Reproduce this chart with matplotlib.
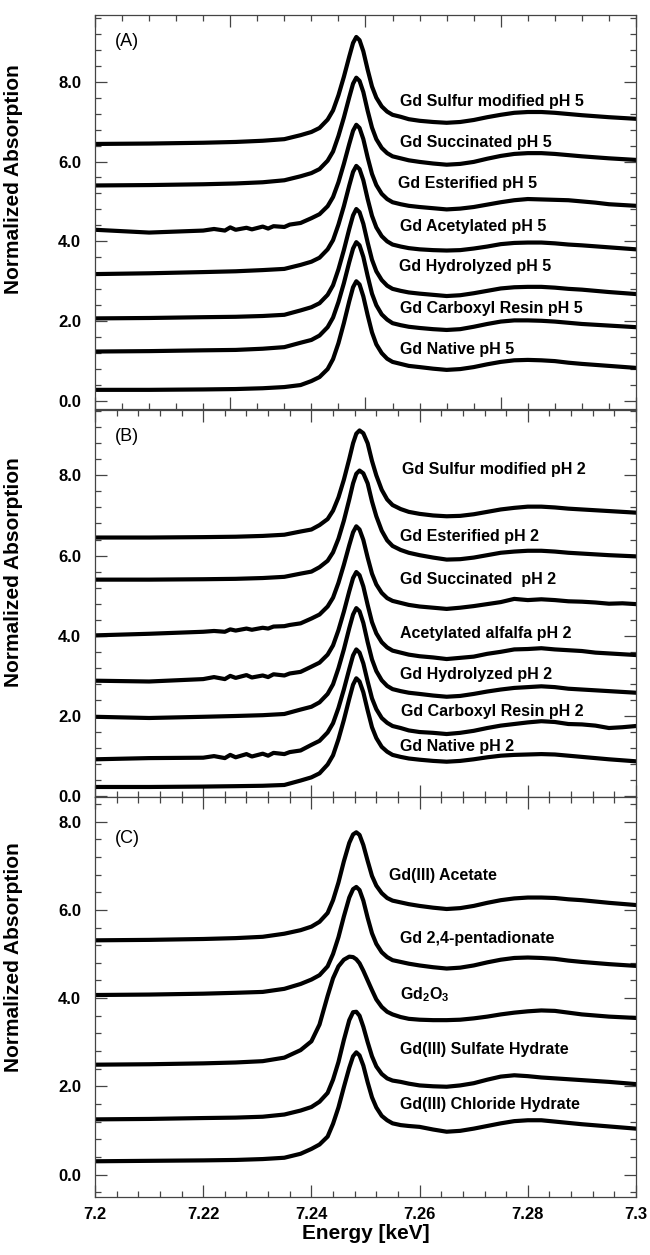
import matplotlib
matplotlib.use('Agg')
from matplotlib import pyplot as plt
from matplotlib.ticker import MultipleLocator, FormatStrFormatter, FuncFormatter

plt.rcParams['font.family'] = ['Liberation Sans', 'DejaVu Sans']
plt.rcParams['mathtext.fontset'] = 'custom'
plt.rcParams['mathtext.rm'] = 'Liberation Sans:bold'
plt.rcParams['mathtext.bf'] = 'Liberation Sans:bold'

# energy grid (keV) used for the smooth spectra
energy = [7.200, 7.210, 7.220, 7.226, 7.231, 7.235, 7.238, 7.240, 7.2415, 7.243,
          7.244, 7.245, 7.246, 7.247, 7.2477, 7.2483, 7.2489, 7.2496, 7.2504, 7.2512,
          7.252, 7.253, 7.254, 7.255, 7.2565, 7.258, 7.260, 7.2625, 7.265, 7.2675,
          7.270, 7.2725, 7.275, 7.2775, 7.280, 7.2825, 7.285, 7.2875, 7.290, 7.295,
          7.300]

# finer grid for the noisy spectra
energy_fine = [7.200, 7.210, 7.220, 7.222, 7.224, 7.225, 7.226, 7.228, 7.229, 7.231,
               7.232, 7.233, 7.235, 7.236, 7.238, 7.240, 7.2415, 7.243, 7.244, 7.245,
               7.246, 7.247, 7.2477, 7.2483, 7.2489, 7.2496, 7.2504, 7.2512, 7.252, 7.253,
               7.254, 7.255, 7.2565, 7.258, 7.260, 7.2625, 7.265, 7.2675, 7.270, 7.2725,
               7.275, 7.2775, 7.280, 7.2825, 7.285, 7.2875, 7.290, 7.2925, 7.295, 7.2975,
               7.300]

# (A) pH 5
native_ph5 = [0.28, 0.28, 0.29, 0.30, 0.32, 0.35, 0.40, 0.50, 0.60, 0.80,
              1.05, 1.45, 1.95, 2.50, 2.85, 3.00, 2.92, 2.62, 2.15, 1.72,
              1.42, 1.20, 1.06, 0.98, 0.93, 0.88, 0.85, 0.81, 0.78, 0.80,
              0.85, 0.92, 0.98, 1.02, 1.03, 1.02, 1.00, 0.96, 0.93, 0.88, 0.83]
carboxyl_ph5 = [1.24, 1.25, 1.27, 1.28, 1.31, 1.35, 1.46, 1.53, 1.64, 1.85,
                2.09, 2.48, 2.95, 3.48, 3.82, 3.98, 3.90, 3.61, 3.13, 2.69,
                2.40, 2.17, 2.04, 1.95, 1.90, 1.86, 1.83, 1.80, 1.78, 1.80,
                1.86, 1.93, 1.99, 2.02, 2.02, 2.01, 1.99, 1.96, 1.93, 1.89, 1.85]
hydrolyzed_ph5 = [2.07, 2.08, 2.10, 2.11, 2.13, 2.16, 2.27, 2.35, 2.45, 2.66,
                  2.90, 3.30, 3.78, 4.31, 4.65, 4.81, 4.73, 4.44, 3.97, 3.54,
                  3.25, 3.03, 2.89, 2.81, 2.76, 2.72, 2.69, 2.66, 2.63, 2.65,
                  2.70, 2.76, 2.82, 2.85, 2.86, 2.86, 2.84, 2.81, 2.79, 2.73, 2.68]
acetylated_ph5 = [3.18, 3.20, 3.23, 3.25, 3.28, 3.31, 3.41, 3.49, 3.59, 3.80,
                  4.03, 4.42, 4.88, 5.40, 5.74, 5.89, 5.81, 5.53, 5.06, 4.64,
                  4.35, 4.13, 4.00, 3.92, 3.87, 3.83, 3.80, 3.78, 3.77, 3.78,
                  3.82, 3.87, 3.93, 3.96, 3.97, 3.97, 3.95, 3.92, 3.90, 3.85, 3.80]
esterified_ph5 = [4.29, 4.22, 4.27, 4.31, 4.27, 4.35, 4.29, 4.34, 4.30, 4.37,
                  4.32, 4.38, 4.36, 4.42, 4.46, 4.58, 4.68, 4.88, 5.11, 5.48,
                  5.94, 6.44, 6.77, 6.92, 6.84, 6.56, 6.10, 5.69, 5.41, 5.19,
                  5.06, 4.98, 4.93, 4.89, 4.86, 4.83, 4.80, 4.82, 4.86, 4.92,
                  4.98, 5.03, 5.06, 5.05, 5.04, 5.03, 5.00, 4.97, 4.93, 4.91,
                  4.89]
succinated_ph5 = [5.40, 5.41, 5.43, 5.45, 5.48, 5.53, 5.63, 5.71, 5.81, 6.02,
                  6.25, 6.64, 7.10, 7.61, 7.95, 8.10, 8.02, 7.74, 7.27, 6.85,
                  6.56, 6.34, 6.21, 6.13, 6.08, 6.03, 5.99, 5.95, 5.92, 5.94,
                  5.99, 6.07, 6.14, 6.19, 6.21, 6.21, 6.19, 6.16, 6.13, 6.08, 6.04]
sulfur_ph5 = [6.44, 6.45, 6.47, 6.49, 6.52, 6.56, 6.66, 6.74, 6.84, 7.05,
              7.28, 7.66, 8.12, 8.63, 8.97, 9.12, 9.04, 8.76, 8.30, 7.88,
              7.60, 7.38, 7.25, 7.17, 7.12, 7.06, 7.02, 6.99, 6.97, 6.99,
              7.04, 7.11, 7.17, 7.22, 7.24, 7.24, 7.22, 7.19, 7.16, 7.11, 7.07]

# (B) pH 2
native_ph2 = [0.23, 0.23, 0.24, 0.25, 0.26, 0.28, 0.39, 0.47, 0.57, 0.79,
              1.02, 1.42, 1.90, 2.43, 2.78, 2.94, 2.86, 2.59, 2.14, 1.72,
              1.45, 1.23, 1.11, 1.03, 0.98, 0.94, 0.91, 0.88, 0.86, 0.88,
              0.92, 0.97, 1.01, 1.03, 1.04, 1.05, 1.04, 1.01, 0.98, 0.92, 0.87]
carboxyl_ph2 = [0.92, 0.95, 0.96, 1.00, 0.95, 1.03, 0.97, 1.05, 0.99, 1.06,
                1.01, 1.08, 1.05, 1.10, 1.14, 1.28, 1.38, 1.59, 1.82, 2.20,
                2.66, 3.17, 3.51, 3.66, 3.58, 3.31, 2.86, 2.44, 2.17, 1.95,
                1.83, 1.75, 1.70, 1.64, 1.60, 1.58, 1.55, 1.58, 1.63, 1.70,
                1.76, 1.80, 1.84, 1.87, 1.85, 1.80, 1.79, 1.76, 1.70, 1.72,
                1.75]
hydrolyzed_ph2 = [1.98, 1.95, 1.98, 2.00, 2.02, 2.05, 2.16, 2.23, 2.34, 2.55,
                  2.79, 3.19, 3.66, 4.19, 4.53, 4.69, 4.61, 4.32, 3.84, 3.41,
                  3.12, 2.89, 2.75, 2.67, 2.62, 2.58, 2.55, 2.51, 2.48, 2.50,
                  2.55, 2.61, 2.66, 2.70, 2.72, 2.74, 2.72, 2.68, 2.66, 2.62, 2.58]
acetylated_ph2 = [2.88, 2.86, 2.92, 2.97, 2.92, 3.00, 2.95, 3.02, 2.96, 3.01,
                  2.97, 3.04, 3.01, 3.06, 3.10, 3.23, 3.33, 3.53, 3.76, 4.14,
                  4.60, 5.11, 5.44, 5.59, 5.51, 5.23, 4.77, 4.34, 4.06, 3.84,
                  3.71, 3.63, 3.58, 3.53, 3.49, 3.46, 3.42, 3.45, 3.48, 3.55,
                  3.60, 3.66, 3.67, 3.69, 3.66, 3.64, 3.62, 3.58, 3.56, 3.54,
                  3.52]
succinated_ph2 = [4.01, 4.05, 4.10, 4.12, 4.10, 4.16, 4.13, 4.18, 4.15, 4.20,
                  4.18, 4.23, 4.24, 4.27, 4.31, 4.43, 4.53, 4.73, 4.95, 5.32,
                  5.77, 6.26, 6.58, 6.73, 6.65, 6.39, 5.95, 5.55, 5.28, 5.07,
                  4.94, 4.87, 4.82, 4.77, 4.73, 4.70, 4.67, 4.70, 4.74, 4.79,
                  4.84, 4.92, 4.89, 4.91, 4.89, 4.86, 4.85, 4.83, 4.80, 4.81,
                  4.79]
esterified_ph2 = [5.40, 5.40, 5.41, 5.42, 5.44, 5.47, 5.55, 5.60, 5.71, 5.87,
                  6.08, 6.42, 6.87, 7.40, 7.80, 8.04, 8.12, 8.05, 7.80, 7.35,
                  6.98, 6.62, 6.38, 6.24, 6.14, 6.07, 6.01, 5.95, 5.90, 5.91,
                  5.95, 6.01, 6.07, 6.10, 6.12, 6.12, 6.10, 6.07, 6.05, 6.01, 5.98]
sulfur_ph2 = [6.45, 6.45, 6.46, 6.47, 6.49, 6.52, 6.60, 6.65, 6.76, 6.91,
              7.12, 7.45, 7.89, 8.41, 8.80, 9.04, 9.12, 9.05, 8.80, 8.36,
              8.00, 7.64, 7.40, 7.26, 7.16, 7.09, 7.04, 7.00, 6.98, 6.99,
              7.03, 7.09, 7.15, 7.19, 7.22, 7.22, 7.20, 7.17, 7.15, 7.11, 7.07]

# (C) reference compounds
chloride = [0.30, 0.31, 0.32, 0.33, 0.35, 0.38, 0.47, 0.58, 0.68, 0.86,
            1.15, 1.52, 1.98, 2.42, 2.68, 2.77, 2.70, 2.47, 2.09, 1.75,
            1.52, 1.33, 1.23, 1.16, 1.12, 1.10, 1.08, 1.02, 0.97, 0.99,
            1.04, 1.10, 1.16, 1.21, 1.23, 1.23, 1.20, 1.17, 1.14, 1.09, 1.04]
sulfate = [1.25, 1.26, 1.28, 1.29, 1.31, 1.36, 1.45, 1.53, 1.65, 1.85,
           2.15, 2.55, 3.05, 3.50, 3.68, 3.69, 3.60, 3.35, 3.00, 2.68,
           2.45, 2.28, 2.18, 2.13, 2.10, 2.06, 2.02, 2.00, 1.99, 2.02,
           2.07, 2.15, 2.22, 2.25, 2.23, 2.20, 2.18, 2.16, 2.14, 2.10, 2.05]
gd2o3 = [2.49, 2.50, 2.52, 2.54, 2.57, 2.65, 2.82, 3.02, 3.40, 4.05,
         4.45, 4.72, 4.87, 4.94, 4.93, 4.88, 4.79, 4.62, 4.40, 4.18,
         3.97, 3.80, 3.69, 3.63, 3.57, 3.53, 3.51, 3.50, 3.50, 3.51,
         3.54, 3.58, 3.63, 3.67, 3.70, 3.72, 3.71, 3.67, 3.63, 3.58, 3.55]
pentadionate = [4.07, 4.08, 4.10, 4.12, 4.14, 4.21, 4.32, 4.42, 4.52, 4.72,
                5.00, 5.38, 5.85, 6.28, 6.47, 6.52, 6.45, 6.21, 5.82, 5.47,
                5.23, 5.04, 4.93, 4.86, 4.82, 4.78, 4.74, 4.70, 4.67, 4.69,
                4.74, 4.81, 4.87, 4.91, 4.92, 4.91, 4.89, 4.85, 4.82, 4.77, 4.73]
acetate = [5.31, 5.32, 5.34, 5.36, 5.39, 5.46, 5.54, 5.62, 5.73, 5.93,
           6.22, 6.62, 7.10, 7.52, 7.71, 7.76, 7.70, 7.47, 7.11, 6.77,
           6.55, 6.38, 6.27, 6.21, 6.17, 6.13, 6.09, 6.05, 6.02, 6.04,
           6.09, 6.16, 6.22, 6.26, 6.28, 6.28, 6.27, 6.24, 6.22, 6.16, 6.11]

# panel contents: (x, y, label, label_x, label_y)
panel_a = [
    (energy, native_ph5, 'Gd Native pH 5', 7.2563, 1.28),
    (energy, carboxyl_ph5, 'Gd Carboxyl Resin pH 5', 7.2563, 2.33),
    (energy, hydrolyzed_ph5, 'Gd Hydrolyzed pH 5', 7.2562, 3.36),
    (energy, acetylated_ph5, 'Gd Acetylated pH 5', 7.2563, 4.36),
    (energy_fine, esterified_ph5, 'Gd Esterified pH 5', 7.2561, 5.44),
    (energy, succinated_ph5, 'Gd Succinated pH 5', 7.2563, 6.47),
    (energy, sulfur_ph5, 'Gd Sulfur modified pH 5', 7.2563, 7.50),
]
panel_b = [
    (energy, native_ph2, 'Gd Native pH 2', 7.2563, 1.23),
    (energy_fine, carboxyl_ph2, 'Gd Carboxyl Resin pH 2', 7.2565, 2.12),
    (energy, hydrolyzed_ph2, 'Gd Hydrolyzed pH 2', 7.2563, 3.04),
    (energy_fine, acetylated_ph2, 'Acetylated alfalfa pH 2', 7.2563, 4.06),
    (energy_fine, succinated_ph2, 'Gd Succinated  pH 2', 7.2564, 5.41),
    (energy, esterified_ph2, 'Gd Esterified pH 2', 7.2563, 6.47),
    (energy, sulfur_ph2, 'Gd Sulfur modified pH 2', 7.2567, 8.15),
]
panel_c = [
    (energy, chloride, 'Gd(III) Chloride Hydrate', 7.2563, 1.59),
    (energy, sulfate, 'Gd(III) Sulfate Hydrate', 7.2563, 2.83),
    (energy, gd2o3, r'Gd$_{2}$O$_{3}$', 7.2563, 4.07),
    (energy, pentadionate, 'Gd 2,4-pentadionate', 7.2563, 5.35),
    (energy, acetate, 'Gd(III) Acetate', 7.2544, 6.77),
]


def drawPanel(ax, curves, tag, tagY, ylim, xMajor, xMinor, labelY):
    for x, y, name, lx, ly in curves:
        ax.plot(x, y, color='black', lw=3.0, solid_joinstyle='round', solid_capstyle='round')
        ax.text(lx, ly, name, fontsize=11.5, fontweight='bold', ha='left', va='center')
    ax.text(7.2037, tagY, tag, fontsize=13, ha='left', va='center')
    ax.set_xlim(7.2, 7.3)
    ax.set_ylim(*ylim)
    ax.xaxis.set_major_locator(MultipleLocator(xMajor))
    ax.xaxis.set_minor_locator(MultipleLocator(xMinor))
    ax.yaxis.set_major_locator(MultipleLocator(2))
    ax.yaxis.set_minor_locator(MultipleLocator(0.4))
    ax.yaxis.set_major_formatter(FormatStrFormatter('%.1f'))
    ax.tick_params(which='both', direction='in', top=True, right=True,
                   color='#444444', width=0.9, labelsize=12)
    ax.tick_params(which='major', length=8.5)
    ax.tick_params(which='minor', length=4.3)
    ax.tick_params(axis='y', pad=10)
    ax.tick_params(axis='x', pad=7)
    for lab in ax.get_yticklabels():
        lab.set_fontweight('bold')
    for s in ax.spines.values():
        s.set_color('#444444')
        s.set_linewidth(0.9)
    ax.set_ylabel('Normalized Absorption', fontsize=15, fontweight='bold')
    ax.yaxis.set_label_coords(-0.133, labelY)


fig = plt.figure(figsize=(6.5, 12.55), dpi=100)
axA = fig.add_axes([0.14615, 0.67410, 0.83231, 0.31394])
axB = fig.add_axes([0.14615, 0.36494, 0.83231, 0.30837])
axC = fig.add_axes([0.14615, 0.04622, 0.83231, 0.31873])

drawPanel(axA, panel_a, '(A)', 9.0, (-0.2, 9.67), 0.025, 0.005, 0.584)
drawPanel(axB, panel_b, '(B)', 8.98, (-0.02, 9.63), 0.02, 0.004, 0.582)
drawPanel(axC, panel_c, '(C)', 7.62, (-0.51, 8.56), 0.02, 0.004, 0.60)

axA.tick_params(labelbottom=False)
axB.tick_params(labelbottom=False)
axC.xaxis.set_major_formatter(FuncFormatter(lambda v, p: '%g' % round(v, 3)))
for lab in axC.get_xticklabels():
    lab.set_fontweight('bold')
axC.set_xlabel('Energy [keV]', fontsize=15, fontweight='bold')
axC.xaxis.set_label_coords(0.5, -0.068)

fig.savefig('out.png', dpi=100)
